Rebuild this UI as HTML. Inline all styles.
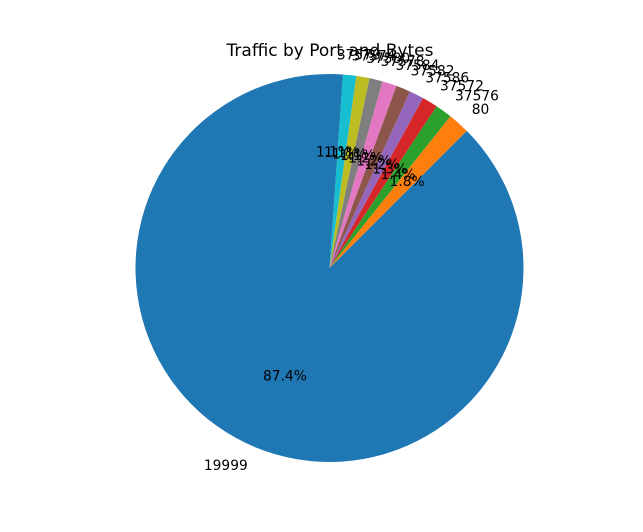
<!DOCTYPE html>
<html><head><meta charset="utf-8"><style>
html,body{margin:0;padding:0;background:#fff;}
svg{display:block;font-family:"DejaVu Sans","Liberation Sans",sans-serif;}
</style></head><body>
<svg id="chart" width="643" height="532" viewBox="0 0 643 532" xmlns="http://www.w3.org/2000/svg">
<rect width="643" height="532" fill="#fff"/>
<text x="330" y="56" text-anchor="middle" font-size="17" fill="#000">Traffic by Port and Bytes</text>
<g id="slices"></g>
<g id="labels"></g>
</svg>
<script>
const categories = ["19999","80","37576","37572","37586","37582","37584","37578","37580","37574","37570"];
const percents = [87.4,1.8,1.4,1.3,1.2,1.2,1.2,1.1,1.1,1.1,1.1];
const pctLabels = ["87.4%","1.8%","1.4%","1.3%","1.2%","1.2%","1.2%","1.1%","1.1%","1.1%","1.1%"];
const colors = ["#1f77b4","#ff7f0e","#2ca02c","#d62728","#9467bd","#8c564b","#e377c2","#7f7f7f","#bcbd22","#17becf","#1f77b4"];
const cx = 329.5, cy = 268, r = 194;
const NS = "http://www.w3.org/2000/svg";
const total = percents.reduce((a,b)=>a+b,0);
const slicesG = document.getElementById("slices");
const labelsG = document.getElementById("labels");
function pt(angDeg, rad){const a=angDeg*Math.PI/180;return [cx+rad*Math.cos(a), cy-rad*Math.sin(a)];}
let start = 90;
percents.forEach((v,i)=>{
  const sweep = v/total*360;
  const end = start+sweep;
  const [x1,y1]=pt(start,r), [x2,y2]=pt(end,r);
  const large = sweep>180?1:0;
  const p = document.createElementNS(NS,"path");
  p.setAttribute("d",`M${cx},${cy} L${x1},${y1} A${r},${r} 0 ${large} 0 ${x2},${y2} Z`);
  p.setAttribute("fill",colors[i]);
  
  
  slicesG.appendChild(p);
  const mid = start+sweep/2;
  const [lx,ly]=pt(mid,r*1.1);
  const t = document.createElementNS(NS,"text");
  t.setAttribute("x",lx); t.setAttribute("y",ly+5);
  t.setAttribute("font-size","13.8");
  t.setAttribute("text-anchor", lx>=cx ? "start" : "end");
  t.textContent = categories[i];
  
  
  labelsG.appendChild(t);
  const [px,py]=pt(mid,r*0.6);
  const q = document.createElementNS(NS,"text");
  q.setAttribute("x",px); q.setAttribute("y",py+5);
  q.setAttribute("font-size","13.8");
  q.setAttribute("text-anchor","middle");
  q.textContent = pctLabels[i];
  
  
  labelsG.appendChild(q);
  start = end;
});
</script>
</body></html>
